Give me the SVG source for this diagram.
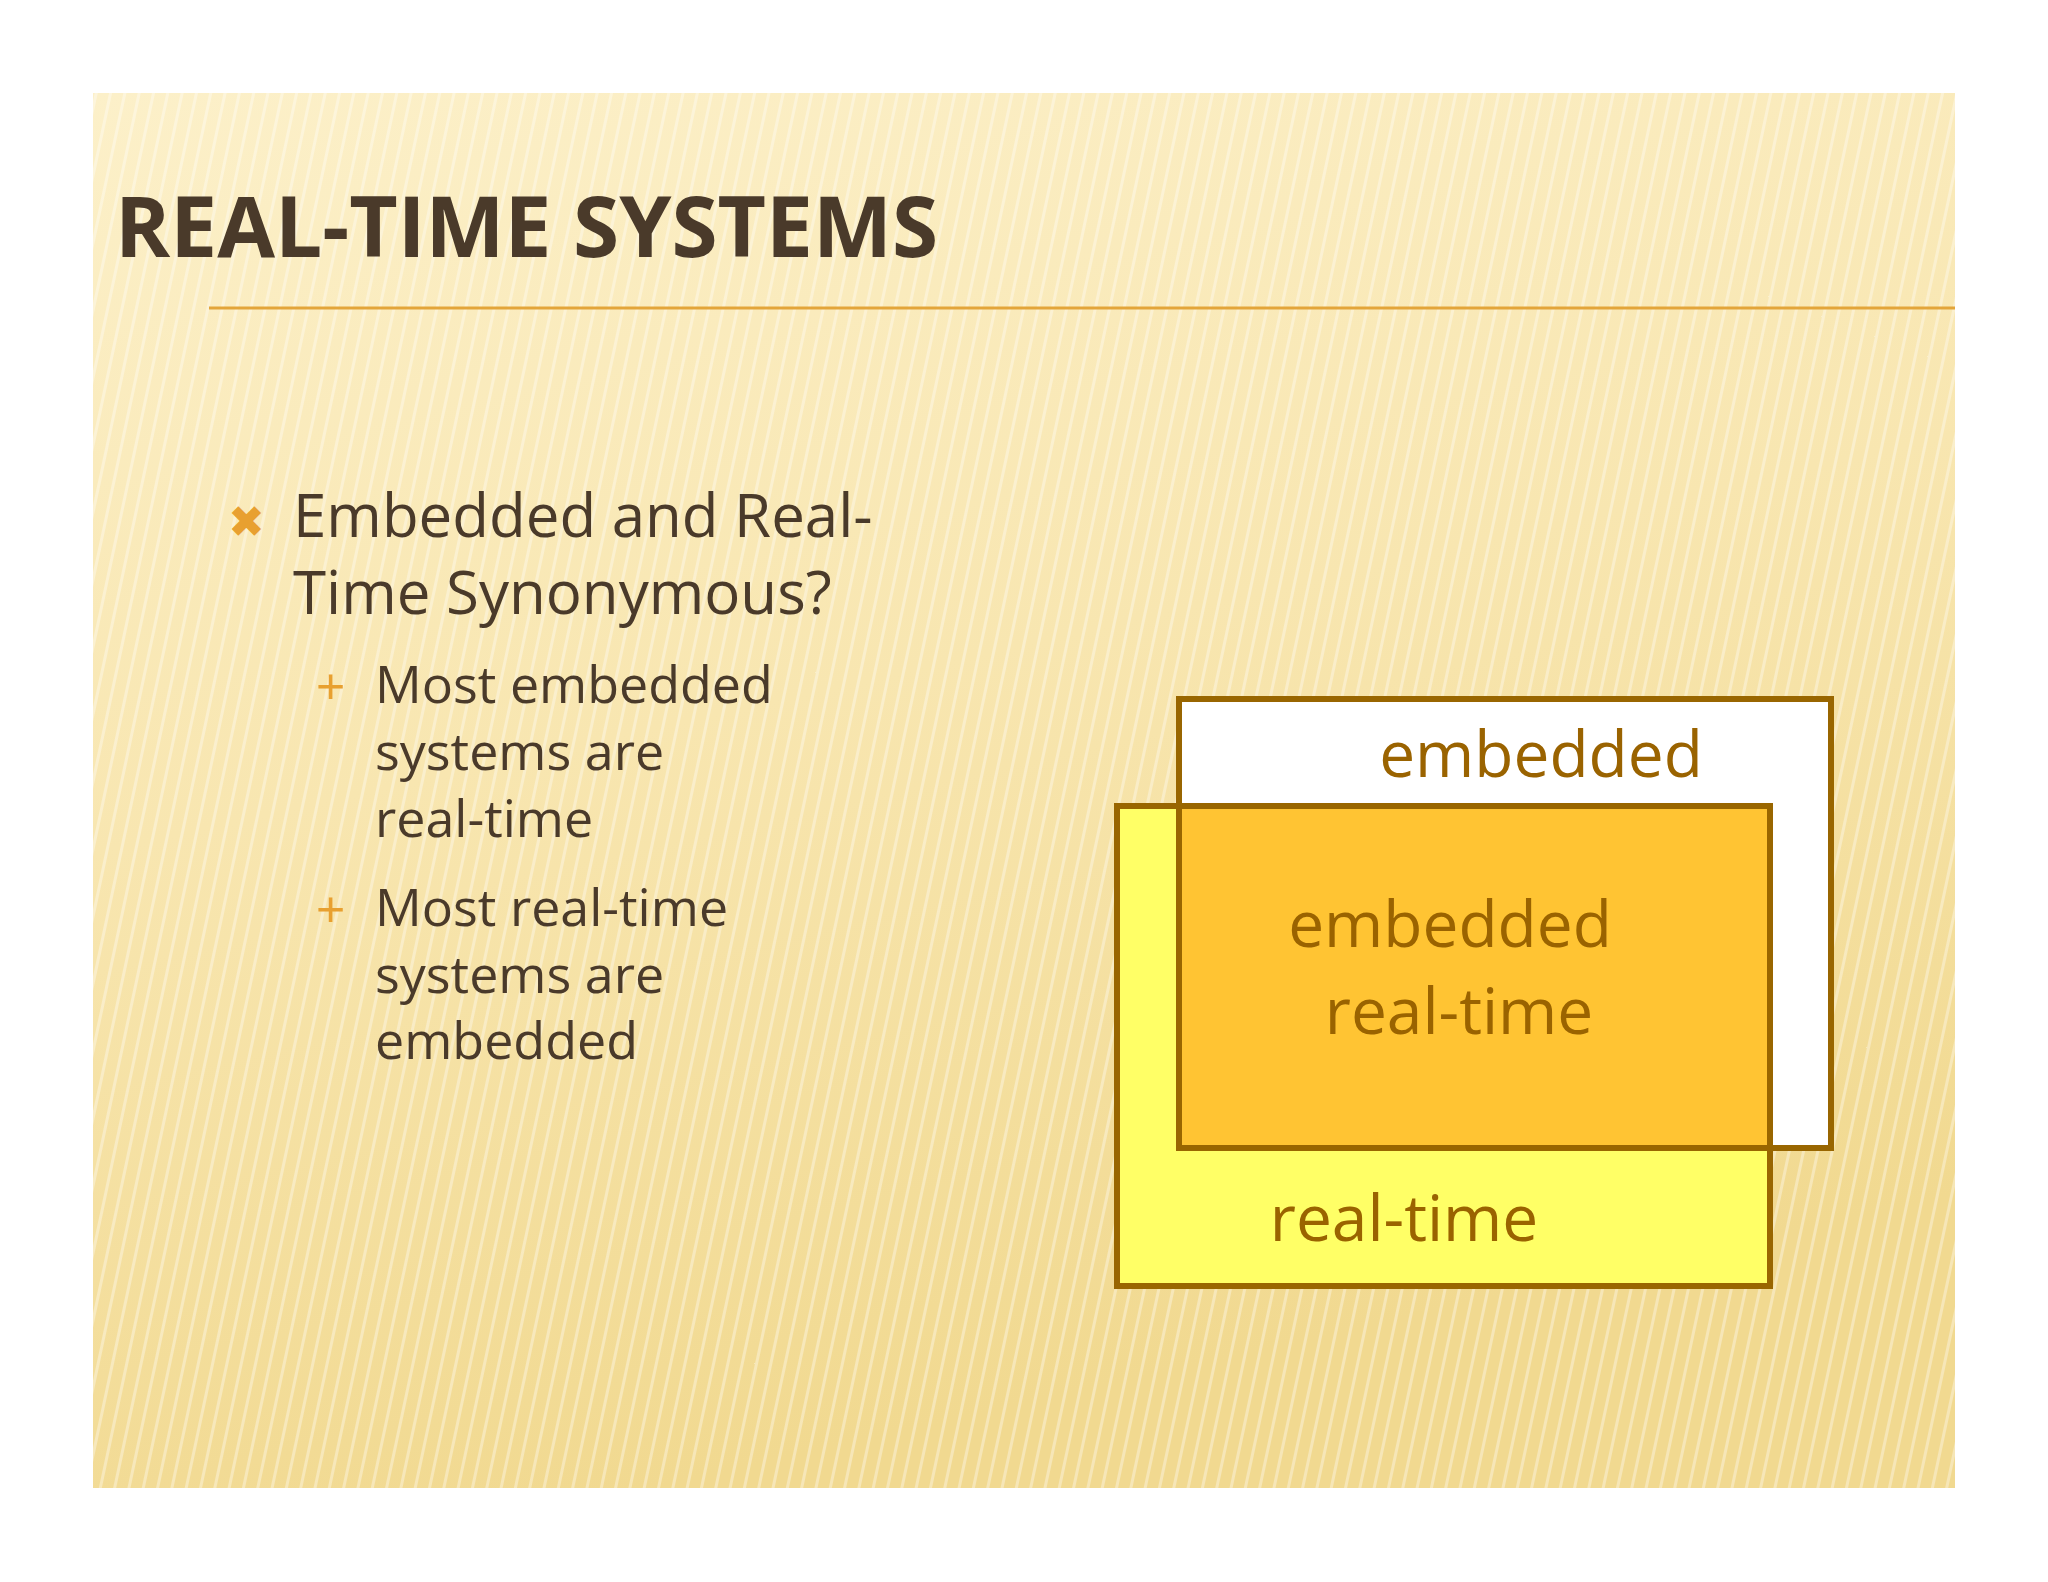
<svg xmlns="http://www.w3.org/2000/svg" width="2048" height="1582" viewBox="0 0 2048 1582">
<defs>
<linearGradient id="bg" x1="0" y1="0" x2="0.3" y2="1">
<stop offset="0" stop-color="#FCF0C9"/>
<stop offset="0.5" stop-color="#F8E6B0"/>
<stop offset="1" stop-color="#F1D990"/>
</linearGradient>
<pattern id="stripes" width="14" height="40" patternUnits="userSpaceOnUse" patternTransform="rotate(12)">
<rect x="0" y="0" width="3" height="40" fill="#FFFFFF" opacity="0.35"/>
</pattern>
<style>
.t{font-family:"Open Sans","Liberation Sans",sans-serif;fill:#4A3A2A}
.b{font-family:"Open Sans","Liberation Sans",sans-serif;fill:#9A6300;text-anchor:middle;font-size:64px}
.o{fill:none;stroke:#996600;stroke-width:6}
</style>
</defs>
<rect width="2048" height="1582" fill="#FFFFFF"/>
<rect x="93" y="93" width="1862" height="1395" fill="url(#bg)"/>
<rect x="93" y="93" width="1862" height="1395" fill="url(#stripes)"/>
<g id="title">
<text x="115" y="257" class="t" font-size="84" font-weight="bold" textLength="823" lengthAdjust="spacingAndGlyphs">REAL-TIME SYSTEMS</text>
<line x1="209" y1="308" x2="1955" y2="308" stroke="#E3A53A" stroke-width="3"/>
</g>
<g id="bullets">
<text x="228" y="537" font-family="DejaVu Sans,sans-serif" font-size="44" font-weight="bold" fill="#E8A030">✖</text>
<text x="293" y="537" class="t" font-size="60">Embedded and Real-</text>
<text x="293" y="614" class="t" font-size="60">Time Synonymous?</text>
<text x="316" y="703" font-family="Liberation Sans,sans-serif" font-size="50" fill="#E8A030">+</text>
<text x="375" y="703" class="t" font-size="52">Most embedded</text>
<text x="375" y="770" class="t" font-size="52">systems are</text>
<text x="375" y="837" class="t" font-size="52">real-time</text>
<text x="316" y="926" font-family="Liberation Sans,sans-serif" font-size="50" fill="#E8A030">+</text>
<text x="375" y="926" class="t" font-size="52">Most real-time</text>
<text x="375" y="993" class="t" font-size="52">systems are</text>
<text x="375" y="1059" class="t" font-size="52">embedded</text>
</g>
<g id="realtime">
<rect x="1117" y="806" width="653" height="480" fill="#FFFF66"/>
<text x="1404" y="1241" class="b">real-time</text>
</g>
<g id="embedded">
<rect x="1179" y="699" width="652" height="449" fill="#FFFFFF"/>
<text x="1541" y="777" class="b">embedded</text>
</g>
<g id="overlap">
<rect x="1179" y="806" width="591" height="342" fill="#FFC433"/>
<text x="1450" y="947" class="b">embedded</text>
<text x="1459" y="1034" class="b">real-time</text>
</g>
<g id="outlines">
<rect x="1179" y="699" width="652" height="449" class="o"/>
<rect x="1117" y="806" width="653" height="480" class="o"/>
</g>
</svg>
